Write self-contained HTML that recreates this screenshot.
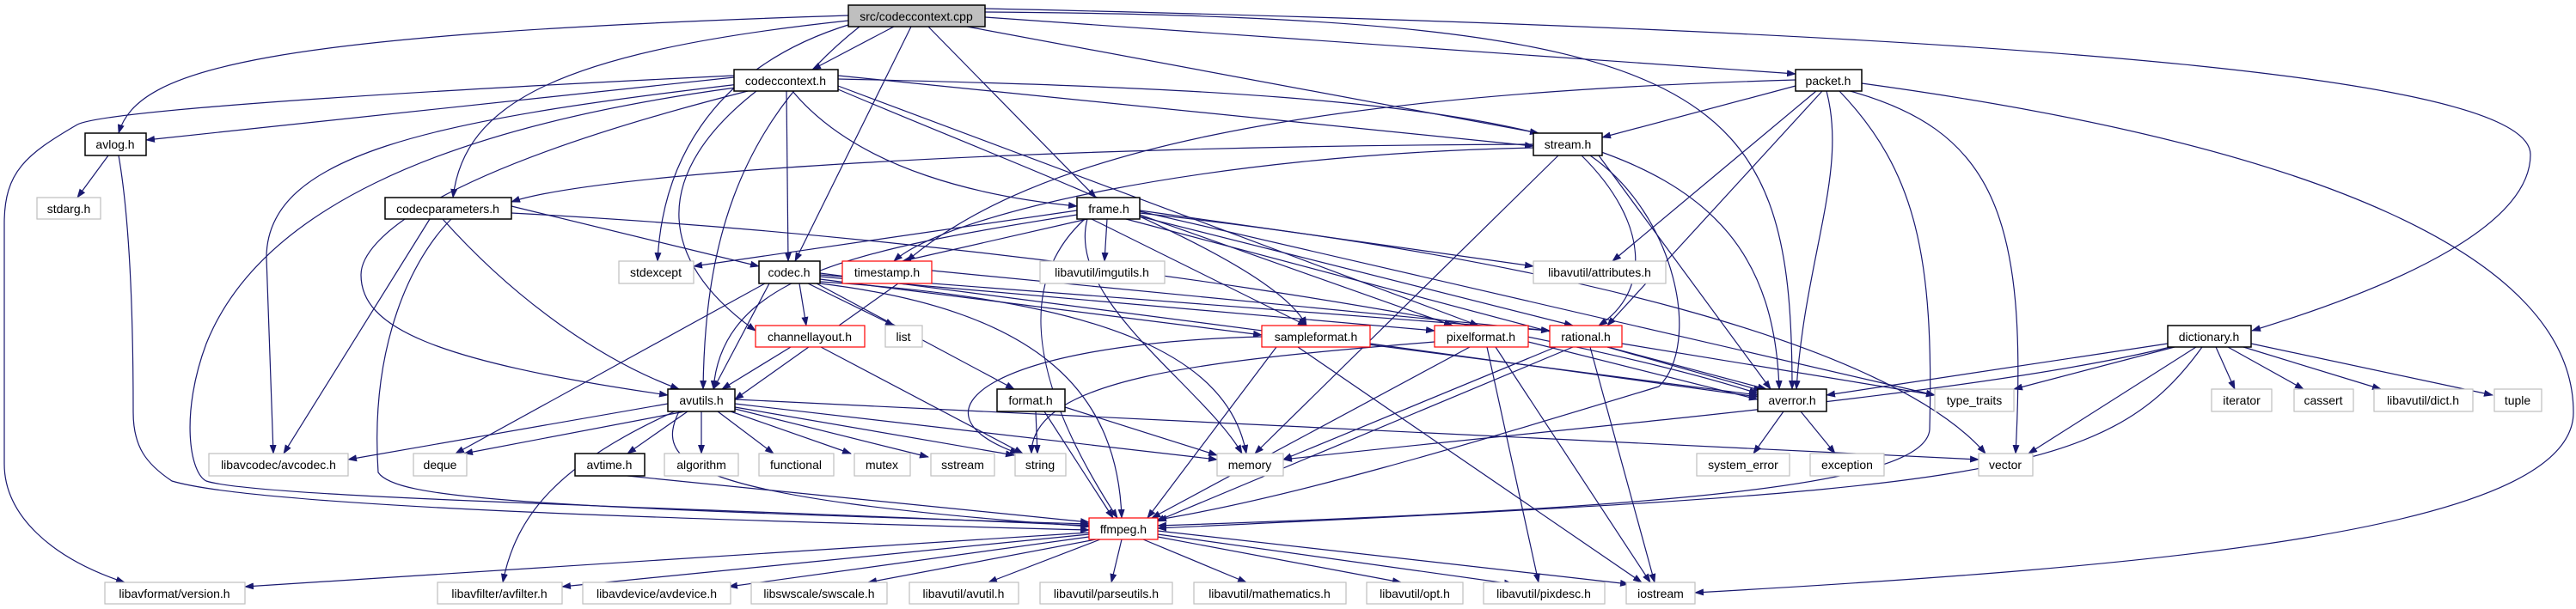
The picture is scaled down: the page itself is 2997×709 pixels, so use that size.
<!DOCTYPE html>
<html><head><meta charset="utf-8"><style>
html,body{margin:0;padding:0;background:#fff;}
svg{display:block;}
text{font-family:"Liberation Sans","DejaVu Sans",sans-serif;font-size:14px;fill:#000;text-anchor:middle;}
.e{fill:none;stroke:#191970;stroke-width:1.2;marker-end:url(#a);}
.n{fill:#fff;stroke:#000;stroke-width:1.5;}
.g{fill:#fff;stroke:#bfbfbf;stroke-width:1.2;}
.r{fill:#fff;stroke:#ff0000;stroke-width:1.2;}
</style></head><body>
<svg width="2997" height="709" viewBox="0 0 2997 709" xmlns="http://www.w3.org/2000/svg">
<defs><marker id="a" markerWidth="11" markerHeight="8" refX="10" refY="4" orient="auto" markerUnits="userSpaceOnUse"><path d="M0,0 L11,4 L0,8 z" fill="#191970"/></marker></defs>
<g>
<!-- cpp -->
<path class="e" d="M1040,31 L945,81"/>
<path class="e" d="M987,18 C300,40 160,80 138,155"/>
<path class="e" d="M987,24 C650,60 540,120 527,230"/>
<path class="e" d="M990,28 C820,80 770,200 765,304"/>
<path class="e" d="M1000,31 C850,150 820,300 818,453"/>
<path class="e" d="M1060,31 L925,304"/>
<path class="e" d="M1080,31 L1275,230"/>
<path class="e" d="M1125,31 L1790,155"/>
<path class="e" d="M1146,20 L2089,86"/>
<path class="e" d="M1146,14 C2000,20 2085,100 2085,453"/>
<path class="e" d="M1146,10 C2500,40 2944,100 2944,180 C2944,260 2800,330 2620,385"/>
<!-- cch -->
<path class="e" d="M854,90 L170,163"/>
<path class="e" d="M854,88 C400,110 120,130 90,145 C30,180 5,200 5,260 L5,540 C5,600 60,650 145,678"/>
<path class="e" d="M860,98 C500,140 310,180 310,300 L318,528"/>
<path class="e" d="M856,102 C500,150 300,250 240,400 C210,480 220,550 240,560 C300,580 800,590 1267,612"/>
<path class="e" d="M870,106 C500,200 420,280 420,320 C420,380 500,420 777,460"/>
<path class="e" d="M880,106 C760,200 760,300 879,385"/>
<path class="e" d="M915,106 L917,304"/>
<path class="e" d="M922,106 C1000,200 1150,230 1253,240"/>
<path class="e" d="M975,88 L1784,170"/>
<path class="e" d="M975,100 L1720,379"/>
<path class="e" d="M975,104 C1200,200 1480,300 1520,379"/>
<path class="e" d="M975,92 C1800,110 2060,150 2070,453"/>
<!-- packet -->
<path class="e" d="M2089,100 L1864,160"/>
<path class="e" d="M2089,93 C1500,110 1200,180 1055,304"/>
<path class="e" d="M2113,106 L1876,304"/>
<path class="e" d="M2120,106 L1870,379"/>
<path class="e" d="M2125,106 C2150,200 2100,300 2090,453"/>
<path class="e" d="M2140,106 C2230,200 2250,300 2245,500 C2240,560 2000,590 1347,612"/>
<path class="e" d="M2145,104 C2320,150 2360,250 2345,528"/>
<path class="e" d="M2166,97 C2700,170 2994,300 2994,480 C2994,620 2500,660 1972,690"/>
<!-- stream -->
<path class="e" d="M1784,168 C1200,170 700,200 595,235"/>
<path class="e" d="M1784,172 C1400,180 1100,250 1040,304"/>
<path class="e" d="M1813,181 L1460,528"/>
<path class="e" d="M1840,181 C1920,260 1920,340 1860,379"/>
<path class="e" d="M1860,181 L2060,453"/>
<path class="e" d="M1850,181 C1950,250 1980,400 1930,450 C1700,520 1500,580 1347,605"/>
<!-- avlog -->
<path class="e" d="M126,181 L90,230"/>
<path class="e" d="M138,181 C150,250 155,350 155,480 C155,520 170,540 200,560 C300,590 800,605 1267,617"/>
<!-- cparams -->
<path class="e" d="M595,240 L883,310"/>
<path class="e" d="M500,255 L330,528"/>
<path class="e" d="M515,255 C600,350 700,420 790,453"/>
<path class="e" d="M595,248 C1200,280 1800,380 2045,458"/>
<path class="e" d="M525,255 C480,300 430,400 440,550 C460,580 600,590 1267,610"/>
<!-- frame -->
<path class="e" d="M1253,245 L807,310"/>
<path class="e" d="M1265,255 L1050,304"/>
<path class="e" d="M1288,255 L1285,304"/>
<path class="e" d="M1326,245 L1784,310"/>
<path class="e" d="M1253,250 C1000,290 840,320 830,453"/>
<path class="e" d="M1270,255 L1520,379"/>
<path class="e" d="M1326,250 L1690,379"/>
<path class="e" d="M1326,252 L1830,379"/>
<path class="e" d="M1310,255 L2055,453"/>
<path class="e" d="M1262,255 C1180,330 1200,450 1300,603"/>
<path class="e" d="M1265,255 C1240,350 1400,450 1445,528"/>
<path class="e" d="M1326,248 C1800,300 2200,400 2310,528"/>
<path class="e" d="M1326,246 L2251,460"/>
<!-- codec -->
<path class="e" d="M930,330 L938,379"/>
<path class="e" d="M940,330 L1040,379"/>
<path class="e" d="M895,330 L830,453"/>
<path class="e" d="M890,330 L530,528"/>
<path class="e" d="M950,330 L1180,453"/>
<path class="e" d="M954,325 L1468,390"/>
<path class="e" d="M954,322 L1669,385"/>
<path class="e" d="M954,320 L1803,385"/>
<path class="e" d="M954,328 C1300,350 1430,420 1450,528"/>
<path class="e" d="M954,330 C1200,360 1300,450 1305,603"/>
<path class="e" d="M954,318 L2045,460"/>
<!-- timestamp -->
<path class="e" d="M1045,330 L855,465"/>
<path class="e" d="M1084,315 L1803,385"/>
<!-- channellayout -->
<path class="e" d="M920,404 L840,453"/>
<path class="e" d="M955,404 L1190,528"/>
<!-- sampleformat -->
<path class="e" d="M1468,392 C1150,400 1050,480 1185,528"/>
<path class="e" d="M1485,404 L1335,603"/>
<path class="e" d="M1510,404 L1910,678"/>
<path class="e" d="M1594,400 L2045,462"/>
<!-- pixelformat -->
<path class="e" d="M1778,398 L2045,465"/>
<path class="e" d="M1710,404 L1340,603"/>
<path class="e" d="M1730,404 L1790,678"/>
<path class="e" d="M1740,404 L1920,678"/>
<path class="e" d="M1669,398 C1400,420 1200,440 1200,528"/>
<!-- rational -->
<path class="e" d="M1887,400 L2251,460"/>
<path class="e" d="M1870,404 L2050,455"/>
<path class="e" d="M1830,404 L1345,607"/>
<path class="e" d="M1850,404 L1925,678"/>
<path class="e" d="M1810,404 L1493,535"/>
<!-- dictionary -->
<path class="e" d="M2522,400 L2125,460"/>
<path class="e" d="M2530,404 L2343,453"/>
<path class="e" d="M2578,404 L2600,453"/>
<path class="e" d="M2592,404 L2680,453"/>
<path class="e" d="M2610,404 L2770,453"/>
<path class="e" d="M2619,400 L2900,460"/>
<path class="e" d="M2555,404 L2360,528"/>
<path class="e" d="M2525,404 C2300,460 1800,500 1493,535"/>
<path class="e" d="M2562,404 C2450,560 2300,570 1347,615"/>
<!-- avutils -->
<path class="e" d="M777,470 L405,535"/>
<path class="e" d="M797,479 L540,528"/>
<path class="e" d="M800,479 L730,528"/>
<path class="e" d="M816,479 L816,528"/>
<path class="e" d="M835,479 L900,528"/>
<path class="e" d="M850,479 L990,528"/>
<path class="e" d="M855,476 L1080,532"/>
<path class="e" d="M855,474 L1180,530"/>
<path class="e" d="M855,470 L1416,535"/>
<path class="e" d="M855,465 L2302,535"/>
<path class="e" d="M790,479 C760,540 800,580 1267,613"/>
<path class="e" d="M785,479 C650,540 600,600 585,678"/>
<!-- format -->
<path class="e" d="M1205,479 L1207,528"/>
<path class="e" d="M1239,474 L1416,530"/>
<path class="e" d="M1215,479 L1295,603"/>
<!-- averror -->
<path class="e" d="M2075,479 L2040,528"/>
<path class="e" d="M2095,479 L2135,528"/>
<!-- avtime -->
<path class="e" d="M730,554 L1267,608"/>
<!-- ffmpeg -->
<path class="e" d="M1267,620 L285,683"/>
<path class="e" d="M1267,622 L654,683"/>
<path class="e" d="M1267,625 L848,683"/>
<path class="e" d="M1275,628 L1010,678"/>
<path class="e" d="M1280,628 L1150,678"/>
<path class="e" d="M1305,628 L1293,678"/>
<path class="e" d="M1330,628 L1450,678"/>
<path class="e" d="M1347,625 L1630,678"/>
<path class="e" d="M1347,622 L1760,680"/>
<path class="e" d="M1347,618 L1895,680"/>
</g>
<g>
<rect x="987" y="6" width="159" height="25" fill="#bfbfbf" stroke="#000" stroke-width="1.5"/><text x="1066" y="24">src/codeccontext.cpp</text>
<rect class="n" x="854" y="81" width="121" height="25"/><text x="914" y="99">codeccontext.h</text>
<rect class="n" x="2089" y="81" width="77" height="25"/><text x="2127" y="99">packet.h</text>
<rect class="n" x="99" y="155" width="71" height="26"/><text x="134" y="173">avlog.h</text>
<rect class="n" x="1784" y="155" width="80" height="26"/><text x="1824" y="173">stream.h</text>
<rect class="g" x="43" y="230" width="74" height="25"/><text x="80" y="248">stdarg.h</text>
<rect class="n" x="448" y="230" width="147" height="25"/><text x="521" y="248">codecparameters.h</text>
<rect class="n" x="1253" y="230" width="73" height="25"/><text x="1290" y="248">frame.h</text>
<rect class="g" x="720" y="304" width="87" height="26"/><text x="763" y="322">stdexcept</text>
<rect class="n" x="883" y="304" width="71" height="26"/><text x="918" y="322">codec.h</text>
<rect class="r" x="980" y="304" width="104" height="26"/><text x="1032" y="322">timestamp.h</text>
<rect class="g" x="1210" y="304" width="145" height="26"/><text x="1282" y="322">libavutil/imgutils.h</text>
<rect class="g" x="1784" y="304" width="154" height="26"/><text x="1861" y="322">libavutil/attributes.h</text>
<rect class="r" x="879" y="379" width="127" height="25"/><text x="942" y="397">channellayout.h</text>
<rect class="g" x="1030" y="379" width="43" height="25"/><text x="1051" y="397">list</text>
<rect class="r" x="1468" y="379" width="126" height="25"/><text x="1531" y="397">sampleformat.h</text>
<rect class="r" x="1669" y="379" width="109" height="25"/><text x="1723" y="397">pixelformat.h</text>
<rect class="r" x="1803" y="379" width="84" height="25"/><text x="1845" y="397">rational.h</text>
<rect class="n" x="2522" y="379" width="97" height="25"/><text x="2570" y="397">dictionary.h</text>
<rect class="n" x="777" y="453" width="78" height="26"/><text x="816" y="471">avutils.h</text>
<rect class="n" x="1160" y="453" width="79" height="26"/><text x="1199" y="471">format.h</text>
<rect class="n" x="2045" y="453" width="80" height="26"/><text x="2085" y="471">averror.h</text>
<rect class="g" x="2251" y="453" width="92" height="26"/><text x="2297" y="471">type_traits</text>
<rect class="g" x="2573" y="453" width="70" height="26"/><text x="2608" y="471">iterator</text>
<rect class="g" x="2669" y="453" width="69" height="26"/><text x="2703" y="471">cassert</text>
<rect class="g" x="2762" y="453" width="115" height="26"/><text x="2819" y="471">libavutil/dict.h</text>
<rect class="g" x="2902" y="453" width="55" height="26"/><text x="2929" y="471">tuple</text>
<rect class="g" x="243" y="528" width="162" height="26"/><text x="324" y="546">libavcodec/avcodec.h</text>
<rect class="g" x="481" y="528" width="62" height="26"/><text x="512" y="546">deque</text>
<rect class="n" x="669" y="528" width="81" height="26"/><text x="709" y="546">avtime.h</text>
<rect class="g" x="773" y="528" width="86" height="26"/><text x="816" y="546">algorithm</text>
<rect class="g" x="883" y="528" width="87" height="26"/><text x="926" y="546">functional</text>
<rect class="g" x="994" y="528" width="65" height="26"/><text x="1026" y="546">mutex</text>
<rect class="g" x="1083" y="528" width="74" height="26"/><text x="1120" y="546">sstream</text>
<rect class="g" x="1181" y="528" width="59" height="26"/><text x="1210" y="546">string</text>
<rect class="g" x="1416" y="528" width="77" height="26"/><text x="1454" y="546">memory</text>
<rect class="g" x="1974" y="528" width="108" height="26"/><text x="2028" y="546">system_error</text>
<rect class="g" x="2106" y="528" width="86" height="26"/><text x="2149" y="546">exception</text>
<rect class="g" x="2302" y="528" width="63" height="26"/><text x="2333" y="546">vector</text>
<rect class="r" x="1267" y="603" width="80" height="25"/><text x="1307" y="621">ffmpeg.h</text>
<rect class="g" x="122" y="678" width="163" height="25"/><text x="203" y="696">libavformat/version.h</text>
<rect class="g" x="509" y="678" width="145" height="25"/><text x="581" y="696">libavfilter/avfilter.h</text>
<rect class="g" x="678" y="678" width="172" height="25"/><text x="764" y="696">libavdevice/avdevice.h</text>
<rect class="g" x="874" y="678" width="158" height="25"/><text x="953" y="696">libswscale/swscale.h</text>
<rect class="g" x="1058" y="678" width="127" height="25"/><text x="1121" y="696">libavutil/avutil.h</text>
<rect class="g" x="1210" y="678" width="154" height="25"/><text x="1287" y="696">libavutil/parseutils.h</text>
<rect class="g" x="1389" y="678" width="177" height="25"/><text x="1477" y="696">libavutil/mathematics.h</text>
<rect class="g" x="1590" y="678" width="112" height="25"/><text x="1646" y="696">libavutil/opt.h</text>
<rect class="g" x="1726" y="678" width="141" height="25"/><text x="1796" y="696">libavutil/pixdesc.h</text>
<rect class="g" x="1892" y="678" width="80" height="25"/><text x="1932" y="696">iostream</text>
</g>
</svg>
</body></html>
